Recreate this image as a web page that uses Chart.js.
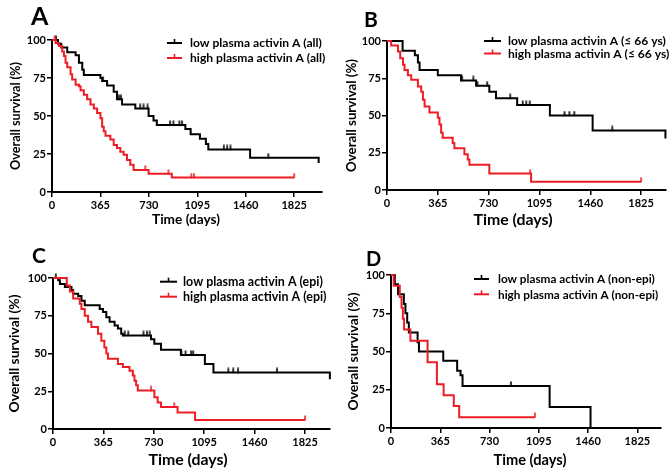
<!DOCTYPE html>
<html><head><meta charset="utf-8">
<script src="https://cdn.jsdelivr.net/npm/chart.js@4.4.0/dist/chart.umd.min.js"></script>
<style>
html,body{margin:0;padding:0;background:#fff;}
#wrap{position:relative;width:672px;height:470px;overflow:hidden;background:#fff;}
.panel{position:absolute;}
.letter{position:absolute;font-family:Lato,sans-serif;font-weight:bold;color:#000;line-height:1;}
</style></head>
<body><div id="wrap">
<div class="panel" style="left:0;top:0;width:336px;height:232px"><canvas id="cA"></canvas></div>
<div class="panel" style="left:336px;top:0;width:336px;height:232px"><canvas id="cB"></canvas></div>
<div class="panel" style="left:0;top:232px;width:336px;height:238px"><canvas id="cC"></canvas></div>
<div class="panel" style="left:336px;top:232px;width:336px;height:238px"><canvas id="cD"></canvas></div>
<div class="letter" style="left:31px;top:3px;font-size:25px">A</div>
<div class="letter" style="left:364px;top:8px;font-size:21px">B</div>
<div class="letter" style="left:32px;top:244px;font-size:21px">C</div>
<div class="letter" style="left:366px;top:248px;font-size:20px">D</div>
</div>
<script>
// ---- data ----
const xTickLabels = [0, 365, 730, 1095, 1460, 1825];
const yTickLabels = [0, 25, 50, 75, 100];
const xAxisTitle = 'Time (days)';
const yAxisTitle = 'Overall survival (%)';

// Panel A
const labelsA = ['low plasma activin A (all)', 'high plasma activin A (all)'];
const lowTimesA = [0, 45, 70, 115, 178, 203, 228, 240, 365, 378, 415, 465, 490, 528, 628, 728, 765, 790, 1005, 1045, 1115, 1160, 1178, 1493, 2010];
const lowSurvA  = [100, 97.5, 95, 92, 90, 85, 80.5, 77, 75, 73, 70, 66, 61, 57.5, 55, 50, 47, 44, 41.5, 38, 35, 31.5, 28, 22.5, 19];
const lowCensA  = [30, 385, 505, 520, 665, 690, 720, 890, 915, 960, 980, 1295, 1320, 1345, 1630];
const highTimesA = [0, 27, 52, 77, 90, 102, 115, 140, 152, 178, 203, 215, 240, 265, 290, 315, 340, 365, 378, 390, 403, 440, 465, 490, 515, 540, 565, 590, 615, 728, 903, 1825];
const highSurvA  = [100, 98, 96, 92.5, 89.5, 85, 82, 77.5, 74, 70.5, 69.5, 67, 64, 61, 57.5, 55, 52, 48.5, 43, 40, 37, 34.5, 31, 29, 26.5, 24.5, 21, 18, 14.5, 12, 9.5, 9.5];
const highCensA  = [20, 703, 878, 1050, 1070, 1825];

// Panel B
const labelsB = ['low plasma activin A (\u2264 66 ys)', 'high plasma activin A (\u2264 66 ys)'];
const lowTimesB = [0, 112, 200, 222, 234, 365, 532, 640, 735, 783, 935, 1170, 1477, 2000];
const lowSurvB  = [100, 93.5, 90.5, 85.5, 80.5, 77, 73.5, 70, 66, 61.5, 57, 50, 40, 34.5];
const lowCensB  = [540, 620, 650, 720, 885, 975, 1000, 1025, 1275, 1310, 1345, 1618];
const highTimesB = [0, 30, 79, 95, 115, 126, 150, 174, 222, 246, 258, 270, 305, 365, 377, 389, 400, 472, 484, 556, 580, 592, 735, 1035, 1825];
const highSurvB  = [100, 97, 93, 88.5, 84, 80.5, 77, 74, 69.5, 66, 60.5, 56, 52, 48.5, 44, 38.5, 35, 31.5, 28, 24, 20.5, 17, 11, 5.5, 5.5];
const highCensB  = [1028, 1825];

// Panel C
const labelsC = ['low plasma activin A (epi)', 'high plasma activin A (epi)'];
const lowTimesC = [0, 38, 50, 86, 134, 146, 182, 206, 230, 338, 362, 386, 410, 446, 470, 494, 506, 710, 734, 782, 926, 1100, 1162, 2005];
const lowSurvC  = [100, 98.5, 96, 94, 92, 89.5, 88, 85, 82, 79.5, 77.5, 74, 71, 68.5, 66.5, 63, 62, 59.5, 56.5, 52.5, 49, 43, 37.5, 33];
const lowCensC  = [20, 520, 545, 655, 680, 700, 930, 960, 1000, 1015, 1270, 1305, 1340, 1622];
const highTimesC = [0, 100, 122, 146, 194, 206, 230, 254, 278, 326, 350, 372, 386, 398, 470, 506, 554, 578, 590, 602, 614, 734, 758, 782, 902, 1029, 1825];
const highSurvC  = [100, 95, 91, 86.5, 83, 79.5, 75, 71, 67.5, 63, 58.5, 54, 50, 46.5, 43, 41, 38.5, 35.5, 32, 29, 25.5, 21, 17.5, 14.5, 11, 6, 6];
const highCensC  = [710, 878, 1825];

// Panel D
const labelsD = ['low plasma activin A (non-epi)', 'high plasma activin A (non-epi)'];
const lowTimesD = [0, 28, 52, 95, 107, 120, 132, 197, 207, 387, 490, 515, 530, 1175, 1478];
const lowSurvD  = [100, 94, 87.5, 81, 75, 69, 62.5, 56, 50, 44, 37.5, 34.5, 27.5, 13.7, 0];
const lowCensD  = [888];
const highTimesD = [0, 20, 65, 78, 88, 97, 144, 271, 340, 390, 465, 505, 1066];
const highSurvD  = [100, 92.9, 85.7, 78.6, 71.4, 64.3, 57.1, 42.9, 28.6, 21.4, 14.3, 7.1, 7.1];
const highCensD  = [1066];

// ---- helpers ----
const BLACK = '#000000';
const RED = '#ee1c24';
Chart.defaults.font.family = 'Lato';
Chart.defaults.color = '#000';

const measureCtx = document.createElement('canvas').getContext('2d');
function fitSize(text, targetWidth) {
  measureCtx.font = 'bold 100px Lato';
  return 100 * targetWidth / measureCtx.measureText(text).width;
}

function steps(times, surv) { return times.map((t, i) => ({x: t, y: surv[i]})); }
function survAt(times, surv, t) { let v = surv[0]; for (let i = 0; i < times.length; i++) { if (times[i] <= t) v = surv[i]; } return v; }
function censorPts(times, surv, cens) { return cens.map(t => ({x: t, y: survAt(times, surv, t)})); }
function tickImg(color) {
  const c = document.createElement('canvas'); c.width = 4; c.height = 10;
  const g = c.getContext('2d'); g.strokeStyle = color; g.lineWidth = 1.6;
  g.beginPath(); g.moveTo(2, 0.5); g.lineTo(2, 5.5); g.stroke(); return c;
}
const tickBlack = tickImg(BLACK), tickRed = tickImg(RED);

const kmDecor = {
  id: 'kmDecor',
  afterDraw(chart, args, o) {
    if (!o || !o.legendY) return;
    const ctx = chart.ctx; ctx.save();
    const size = fitSize(chart.data.datasets[0].label, o.legendW);
    ctx.font = 'bold ' + size + 'px Lato';
    ctx.textBaseline = 'middle'; ctx.textAlign = 'left';
    [0, 1].forEach(i => {
      const ds = chart.data.datasets[i];
      const y = o.legendY[i];
      ctx.strokeStyle = ds.borderColor; ctx.lineWidth = 2;
      ctx.beginPath(); ctx.moveTo(o.legendX, y); ctx.lineTo(o.legendX + o.legendLen, y); ctx.stroke();
      const mx = o.legendX + o.legendLen / 2;
      ctx.lineWidth = 1.6; ctx.beginPath(); ctx.moveTo(mx, y); ctx.lineTo(mx, y - 4); ctx.stroke();
      ctx.fillStyle = '#000'; ctx.fillText(ds.label, o.textX, y + 0.5);
    });
    ctx.font = 'bold ' + fitSize(xAxisTitle, o.xtW) + 'px Lato';
    ctx.textAlign = 'center'; ctx.textBaseline = 'middle'; ctx.fillStyle = '#000';
    ctx.fillText(xAxisTitle, o.xtX, o.xtY);
    ctx.restore();
  }
};
Chart.register(kmDecor);

function makeChart(id, L, labels, lt, ls, lc, ht, hs, hc) {
  const tickFont = {family: 'Lato', weight: 'bold', size: 11};
  const ytSize = fitSize(yAxisTitle, L.ytW);
  const ytPad = L.ytX - ytSize * 1.2 / 2;
  new Chart(document.getElementById(id), {
    type: 'line',
    data: { datasets: [
      {label: labels[0], data: steps(lt, ls), borderColor: BLACK, borderWidth: 2, stepped: true, pointRadius: 0, fill: false, clip: 8, order: 1},
      {label: labels[1], data: steps(ht, hs), borderColor: RED, borderWidth: 2, stepped: true, pointRadius: 0, fill: false, clip: 8, order: 0},
      {label: 'censored low', data: censorPts(lt, ls, lc), showLine: false, pointStyle: tickBlack, pointRadius: 5, pointHoverRadius: 5, borderColor: BLACK, clip: 8, order: 1},
      {label: 'censored high', data: censorPts(ht, hs, hc), showLine: false, pointStyle: tickRed, pointRadius: 5, pointHoverRadius: 5, borderColor: RED, clip: 8, order: 0}
    ]},
    options: {
      responsive: true, maintainAspectRatio: false, animation: false,
      events: [],
      layout: {padding: {left: 0, top: L.top, right: L.right, bottom: 0}},
      plugins: {legend: {display: false}, tooltip: {enabled: false}, kmDecor: L.decor},
      scales: {
        x: {
          type: 'linear', min: 0, max: L.xmax,
          afterBuildTicks: s => { s.ticks = xTickLabels.map(v => ({value: v})); },
          afterFit: s => { s.height = L.xh; },
          ticks: {font: tickFont, color: '#000', padding: 2, maxRotation: 0, autoSkip: false, callback: v => String(v)},
          grid: {drawOnChartArea: false, drawTicks: true, tickLength: 5, color: '#000', lineWidth: 1.5},
          border: {display: true, color: '#000', width: 2}
        },
        y: {
          type: 'linear', min: 0, max: 100,
          afterBuildTicks: s => { s.ticks = yTickLabels.map(v => ({value: v})); },
          afterFit: s => { s.width = L.yw; },
          ticks: {font: tickFont, color: '#000', padding: 1, autoSkip: false, callback: v => String(v)},
          grid: {drawOnChartArea: false, drawTicks: true, tickLength: 5, color: '#000', lineWidth: 1.5},
          border: {display: true, color: '#000', width: 2},
          title: {display: true, text: yAxisTitle, color: '#000', font: {family: 'Lato', weight: 'bold', size: ytSize}, padding: {top: ytPad, bottom: 0}}
        }
      }
    }
  });
}

makeChart('cA', {yw: 52, top: 40, right: 14, xh: 40, xmax: 2035, ytW: 108, ytX: 15.5,
  decor: {legendX: 167, legendLen: 15, legendY: [43, 58], textX: 190, legendW: 132, xtX: 186, xtY: 220, xtW: 68}},
  labelsA, lowTimesA, lowSurvA, lowCensA, highTimesA, highSurvA, highCensA);
makeChart('cB', {yw: 51, top: 41, right: 5, xh: 42, xmax: 2004, ytW: 113, ytX: 16,
  decor: {legendX: 148, legendLen: 17, legendY: [41, 53.5], textX: 172, legendW: 158, xtX: 177, xtY: 220, xtW: 79}},
  labelsB, lowTimesB, lowSurvB, lowCensB, highTimesB, highSurvB, highCensB);
makeChart('cC', {yw: 53, top: 46, right: 6, xh: 41, xmax: 2006, ytW: 118, ytX: 15,
  decor: {legendX: 160, legendLen: 17, legendY: [49.7, 64.7], textX: 183, legendW: 140, xtX: 188, xtY: 228, xtW: 79}},
  labelsC, lowTimesC, lowSurvC, lowCensC, highTimesC, highSurvC, highCensC);
makeChart('cD', {yw: 55, top: 43, right: 11, xh: 42, xmax: 2000, ytW: 118, ytX: 18,
  decor: {legendX: 138, legendLen: 15, legendY: [47, 62.3], textX: 162, legendW: 157, xtX: 194, xtY: 228, xtW: 73}},
  labelsD, lowTimesD, lowSurvD, lowCensD, highTimesD, highSurvD, highCensD);
</script>
</body></html>
